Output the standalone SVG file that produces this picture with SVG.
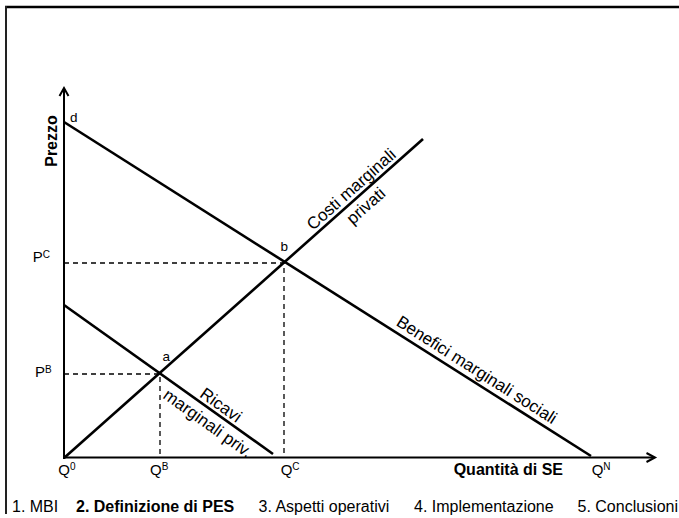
<svg xmlns="http://www.w3.org/2000/svg" width="679" height="518" viewBox="0 0 679 518">
<style>
text{font-family:"Liberation Sans",Arial,sans-serif;fill:#000}
.lbl{font-size:17px}
.pt{font-size:13.5px}
.ax{font-size:15px}
.sup{font-size:10px}
.ft{font-size:16px}
.b{font-weight:bold}
.curve{stroke:#000;stroke-width:2.6;fill:none}
.axis{stroke:#000;stroke-width:2;fill:none}
.dash{stroke:#000;stroke-width:1.3;stroke-dasharray:5,4;fill:none}
</style>
<rect width="679" height="518" fill="#fff"/>
<g id="frame">
<line x1="5" y1="7" x2="679" y2="7" stroke="#000" stroke-width="2.5"/>
<line x1="6" y1="6" x2="6" y2="514" stroke="#222" stroke-width="2"/>
</g>
<g id="axes">
<line class="axis" x1="64" y1="459" x2="64" y2="89"/>
<polyline class="axis" points="59.5,96 64,88 68.5,96"/>
<line class="axis" x1="63" y1="457.5" x2="654" y2="457.5"/>
<polyline class="axis" points="646.5,453 655,457.5 646.5,462"/>
<text class="b" font-size="16" transform="translate(57,141) rotate(-90)" text-anchor="middle">Prezzo</text>
<text class="b" font-size="16" x="563" y="475" text-anchor="end">Quantità di SE</text>
</g>
<g id="connectors">
<polyline class="dash" points="64,263 284,263 284,457"/>
<polyline class="dash" points="64,374 160,374 160,457"/>
<line class="curve" x1="64" y1="458" x2="423" y2="139"/>
<line class="curve" x1="64" y1="122" x2="591" y2="456"/>
<line class="curve" x1="64" y1="305" x2="273" y2="454"/>
</g>
<g id="label-costi" transform="translate(358,197) rotate(-41.6)">
<text class="lbl" x="0" y="-4.5" text-anchor="middle">Costi marginali</text>
<text class="lbl" x="0" y="17.5" text-anchor="middle">privati</text>
</g>
<g id="label-benefici" transform="translate(470.5,379.7) rotate(32.4)">
<text class="lbl" x="0" y="-6" text-anchor="middle">Benefici marginali sociali</text>
</g>
<g id="label-ricavi" transform="translate(215.3,412.9) rotate(35.5)">
<text class="lbl" x="0" y="-4" text-anchor="middle">Ricavi</text>
<text class="lbl" x="0" y="18.5" text-anchor="middle">marginali priv.</text>
</g>
<g id="points">
<text class="pt" x="70" y="122">d</text>
<text class="pt" x="280.5" y="250.5">b</text>
<text class="pt" x="162.5" y="361">a</text>
</g>
<g id="price-labels">
<text class="ax" x="32.7" y="262">P<tspan class="sup" dy="-4">C</tspan></text>
<text class="ax" x="35" y="377">P<tspan class="sup" dy="-4">B</tspan></text>
</g>
<g id="qty-labels">
<text class="ax" x="58.3" y="475">Q<tspan class="sup" dy="-5">0</tspan></text>
<text class="ax" x="150" y="475">Q<tspan class="sup" dy="-5">B</tspan></text>
<text class="ax" x="280.7" y="475">Q<tspan class="sup" dy="-5">C</tspan></text>
<text class="ax" x="591.7" y="475">Q<tspan class="sup" dy="-5">N</tspan></text>
</g>
<g id="footer">
<text class="ft" x="12" y="512">1. MBI</text>
<text class="ft b" x="76" y="512">2. Definizione di PES</text>
<text class="ft" x="258.5" y="512">3. Aspetti operativi</text>
<text class="ft" x="414" y="512">4. Implementazione</text>
<text class="ft" x="577.5" y="512">5. Conclusioni</text>
</g>
</svg>
